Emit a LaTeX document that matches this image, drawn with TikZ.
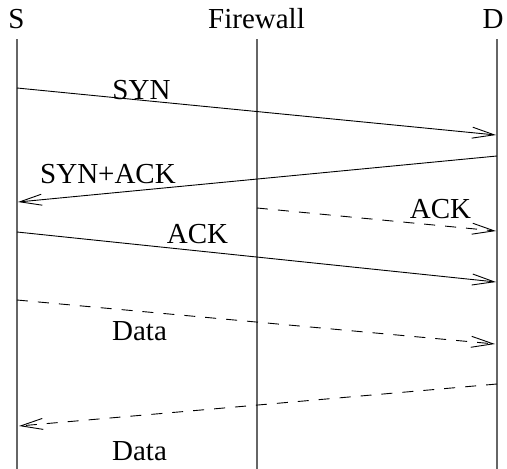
\documentclass[tikz,border=0pt]{standalone}
\usepackage{fontspec}
\setmainfont{Liberation Serif}
\usetikzlibrary{arrows.meta}
\begin{document}
\begin{tikzpicture}[x=1pt,y=-1pt,
  hdr/.style={anchor=base,inner sep=0pt,font=\fontsize{29}{31}\selectfont},
  lbl/.style={anchor=base,inner sep=0pt,font=\fontsize{29}{31}\selectfont},
  life/.style={line width=1.6pt,black!60},
  msg/.style={line width=0.9pt,-{Straight Barb[length=22pt,width=11pt,line width=0.9pt]}},
  dmsg/.style={msg,dash pattern=on 11pt off 10pt}]
\useasboundingbox (0,0) rectangle (507,469);
% headers
\node[hdr] (S) at (16.5,28) {S};
\node[hdr] (F) at (256.5,28) {Firewall};
\node[hdr] (D) at (493,28) {D};
% lifelines
\coordinate (st) at (17,39);  \coordinate (sb) at (17,469);
\coordinate (ft) at (257,39); \coordinate (fb) at (257,469);
\coordinate (dt) at (497,39); \coordinate (db) at (497,469);
\draw[life] (st) -- (sb);
\draw[life] (ft) -- (fb);
\draw[life] (dt) -- (db);
% message end points
\coordinate (a1) at (17,88);   \coordinate (b1) at (496,135);
\coordinate (a2) at (497,156); \coordinate (b2) at (18,202);
\coordinate (a3) at (257,208); \coordinate (b3) at (496,231);
\coordinate (a4) at (17,232);  \coordinate (b4) at (496,282);
\coordinate (a5) at (17,300);  \coordinate (b5) at (495,344);
\coordinate (a6) at (497,384); \coordinate (b6) at (19,426);
\draw[msg] (a1) -- (b1);
\draw[msg] (a2) -- (b2);
\draw[dmsg] (a3) -- (b3);
\draw[msg] (a4) -- (b4);
\draw[dmsg] (a5) -- (b5);
\draw[dmsg] (a6) -- (b6);
% labels
\node[lbl] (l1) at (141.5,99) {SYN};
\node[lbl] (l2) at (108,183) {SYN+ACK};
\node[lbl] (l3) at (440.5,218) {ACK};
\node[lbl] (l4) at (197.5,243) {ACK};
\node[lbl] (l5) at (139.5,340) {Data};
\node[lbl] (l6) at (139.5,460) {Data};
\end{tikzpicture}
\end{document}
